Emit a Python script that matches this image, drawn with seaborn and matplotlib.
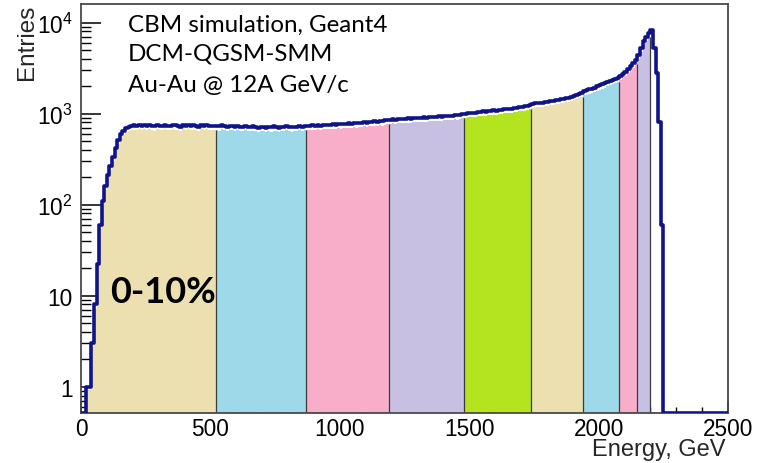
import numpy as np
import pandas as pd
import matplotlib
matplotlib.use("Agg")
import matplotlib.pyplot as plt
from matplotlib.ticker import FixedLocator, MultipleLocator, LogLocator, FuncFormatter, NullFormatter
import seaborn as sns

# ---------------- data (10 GeV bins) ----------------
bin_width = 10
rise = [0, 0, 1, 1, 3, 8, 22, 60, 110, 160, 210, 265, 335, 420, 510, 590, 650, 695, 715, 728]           # 0-200
band1 = [741, 726, 750, 733, 745, 729, 754, 736, 723, 748, 740, 731, 757, 734, 726, 749, 743, 730, 721, 746,
         738, 752, 728, 741, 735, 720, 747, 733, 744, 726, 737, 731]                                      # 200-520
band2 = [735, 722, 744, 728, 719, 738, 725, 716, 733, 721, 711, 729, 718, 707, 724, 714, 703, 720, 710, 699,
         716, 706, 723, 712, 701, 718, 709, 726, 713, 705, 721, 716, 730, 719, 727]                        # 520-870
band3 = [733, 728, 741, 735, 746, 739, 752, 744, 757, 750, 762, 755, 768, 760, 774, 767, 781, 773, 788, 780,
         795, 787, 803, 796, 811, 804, 820, 812, 830, 822, 841, 852]                                      # 870-1190
band4 = [858, 866, 861, 872, 868, 879, 874, 886, 881, 893, 889, 900, 896, 908, 904, 916, 912, 924, 920, 933,
         929, 942, 938, 951, 947, 961, 957, 972, 990]                                                     # 1190-1480
band5 = [1002, 1015, 1010, 1028, 1024, 1041, 1037, 1056, 1051, 1070, 1066, 1085, 1081, 1101, 1097, 1118,
         1114, 1136, 1132, 1155, 1151, 1175, 1172, 1197, 1222, 1250]                                      # 1480-1740
band6 = [1282, 1300, 1298, 1323, 1321, 1349, 1347, 1377, 1376, 1408, 1408, 1442, 1443, 1479, 1482, 1520,
         1561, 1603, 1648, 1695]                                                                          # 1740-1940
band7 = [1760, 1800, 1840, 1885, 1935, 1985, 2040, 2095, 2150, 2210, 2275, 2340, 2410, 2480]              # 1940-2080
band8 = [2600, 2740, 2900, 3080, 3300, 3560, 3900]                                                        # 2080-2150
band9 = [4400, 5300, 6200, 7000, 7700]                                                                    # 2150-2200
falloff = [8200, 5200, 2800, 800, 60]                                                                     # 2200-2250
tail = [0]                                                                                                # 2250-2500

band_edges = [0, 520, 870, 1190, 1480, 1740, 1940, 2080, 2150, 2200]
band_colors = ["#ECE0B1", "#9DD9E8", "#F8AEC8", "#C7C0E3", "#B4E420",
               "#ECE0B1", "#9DD9E8", "#F8AEC8", "#C7C0E3"]

x_ticks = [0, 500, 1000, 1500, 2000, 2500]
y_ticks = [1, 10, 100, 1000, 10000]
x_range = (0, 2500)
y_range = (0.514, 16200)

labels = ["CBM simulation, Geant4", "DCM-QGSM-SMM", "Au-Au @ 12A GeV/c"]
centrality_label = "0-10%"

# ---------------- assemble histogram ----------------
counts = np.array(rise + band1 + band2 + band3 + band4 + band5 + band6 + band7 + band8 + band9 + falloff + tail,
                  dtype=float)
n_fine = len(counts) - 1
edges = np.append(np.arange(0, (n_fine + 1) * bin_width, bin_width), x_range[1]).astype(float)
centers = 0.5 * (edges[:-1] + edges[1:])
fill_vals = counts * 0.9
line_vals = np.where(counts > 0, counts, y_range[0])   # zero bins drawn on the axis floor (ROOT style)
df = pd.DataFrame({"energy": centers, "fill": fill_vals, "line": line_vals})

# ---------------- style ----------------
sns.set_style("white")
plt.rcParams["font.family"] = ["Liberation Sans", "DejaVu Sans"]
plt.rcParams["mathtext.fontset"] = "custom"
plt.rcParams["mathtext.rm"] = "Liberation Sans"
plt.rcParams["mathtext.it"] = "Liberation Sans:italic"

fig = plt.figure(figsize=(7.67, 4.64), dpi=100)
ax = fig.add_axes([81 / 767, 1 - 414 / 464, (728 - 81) / 767, (414 - 4.5) / 464])
ax.set_yscale("log")

# filled centrality bands (slightly below the outline)
for k in range(len(band_edges) - 1):
    lo, hi = band_edges[k], band_edges[k + 1]
    sub = df[(df["energy"] > lo) & (df["energy"] < hi)]
    sub_edges = [float(e) for e in edges if lo <= e <= hi]
    sns.histplot(data=sub, x="energy", weights="fill", bins=sub_edges,
                 element="step", fill=True, color=band_colors[k], alpha=1, linewidth=0, ax=ax)

# boundary lines between bands
b_heights = []
for b in band_edges[1:]:
    idx = np.searchsorted(edges, b) - 1
    b_heights.append(fill_vals[idx])
ax.vlines(band_edges[1:], y_range[0], b_heights, colors="#3a3a3a", linewidth=0.9, zorder=2.2)

# outline of the histogram
sns.histplot(data=df, x="energy", weights="line", bins=[float(e) for e in edges], element="step", fill=False,
             color="#0f1489", linewidth=2.6, ax=ax, zorder=3)

# ---------------- axes ----------------
ax.set_xlim(*x_range)
ax.set_ylim(*y_range)
ax.xaxis.set_major_locator(FixedLocator(x_ticks))
ax.xaxis.set_minor_locator(MultipleLocator(100))
ax.yaxis.set_major_locator(FixedLocator(y_ticks))
ax.yaxis.set_minor_locator(LogLocator(base=10, subs=np.arange(2, 10), numticks=30))
ax.yaxis.set_minor_formatter(NullFormatter())


def yfmt(v, pos):
    e = int(round(np.log10(v)))
    if e == 0:
        return "1"
    if e == 1:
        return "10"
    return r"$\mathregular{10^{%d}}$" % e


ax.yaxis.set_major_formatter(FuncFormatter(yfmt))

ax.tick_params(axis="x", which="major", direction="in", length=9, width=1.1, labelsize=16.3, pad=3,
               bottom=True, top=False, colors="black")
ax.tick_params(axis="x", which="minor", direction="in", length=4.5, width=1.0, bottom=True, top=False,
               colors="black")
ax.tick_params(axis="y", which="major", direction="in", length=14.5, width=1.1, labelsize=16.3, pad=6,
               left=True, right=False, colors="black")
ax.tick_params(axis="y", which="minor", direction="in", length=7.2, width=1.0, left=True, right=False,
               colors="black")

for sp in ax.spines.values():
    sp.set_color("#4a4a4a")
    sp.set_linewidth(1.3)
    sp.set_visible(True)

ax.set_xlabel("Energy, GeV", fontsize=17, loc="right")
ax.xaxis.set_label_coords(0.996, -0.062)
ax.set_ylabel("Entries", fontsize=17.5, loc="top")
ax.yaxis.set_label_coords(-0.066, 1.0)

# annotations
base_px = [32, 61, 92]
for txt, bp in zip(labels, base_px):
    ax.text((128 - 81) / 647, (414 - bp) / 409.5, txt, transform=ax.transAxes,
            fontsize=17.4, family=["Lato", "DejaVu Sans"], va="baseline", ha="left", color="black")
ax.text((110 - 81) / 647, (414 - 303) / 409.5, centrality_label, transform=ax.transAxes,
        fontsize=26, fontweight="bold", family=["Lato", "DejaVu Sans"], va="baseline", ha="left",
        color="black")

fig.savefig("out.png", dpi=100)
